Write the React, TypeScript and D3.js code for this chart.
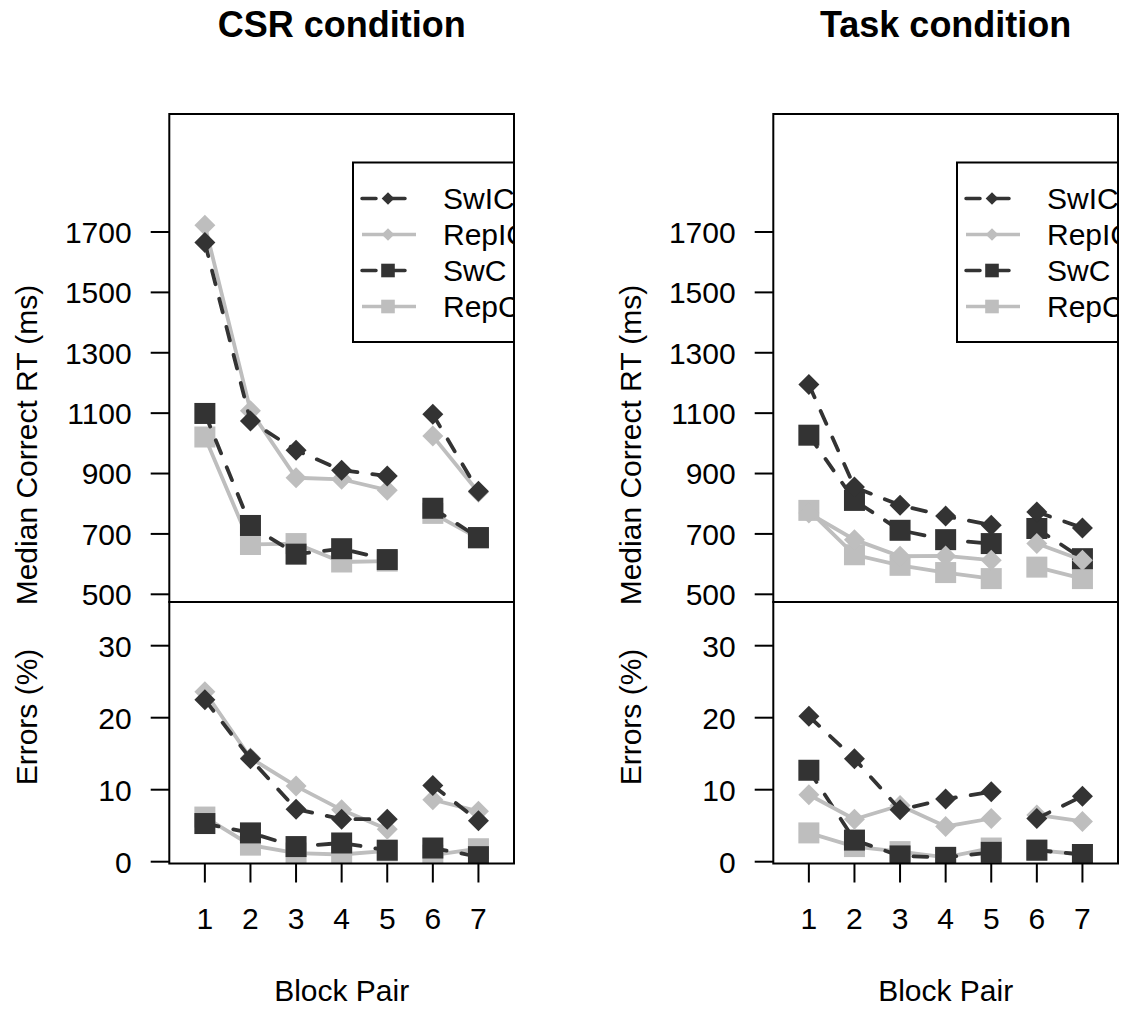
import React from "react";
import * as d3 from "d3";

// block pairs on the x axis
const blocks = [1, 2, 3, 4, 5, 6, 7];
const seriesNames = ["SwIC", "RepIC", "SwC", "RepC"];
const rtTicks = [500, 700, 900, 1100, 1300, 1500, 1700];
const errTicks = [0, 10, 20, 30];

// CSR condition - median correct RT (ms)
const csrRtSwIC = [1665, 1074, 977, 911, 892, 1096, 841];
const csrRtRepIC = [1722, 1108, 886, 881, 845, 1024, 838];
const csrRtSwC = [1099, 728, 633, 651, 615, 785, 688];
const csrRtRepC = [1021, 665, 668, 607, 610, 768, 685];
// CSR condition - errors (%)
const csrErrSwIC = [22.5, 14.3, 7.3, 5.9, 5.9, 10.6, 5.7];
const csrErrRepIC = [23.6, 14.4, 10.5, 7.2, 4.5, 8.6, 7.0];
const csrErrSwC = [5.3, 4.0, 2.1, 2.6, 1.6, 1.9, 0.7];
const csrErrRepC = [6.2, 2.3, 1.2, 1.0, 1.5, 0.9, 1.8];

// Task condition - median correct RT (ms)
const taskRtSwIC = [1195, 855, 795, 759, 729, 773, 720];
const taskRtRepIC = [769, 681, 626, 627, 613, 668, 613];
const taskRtSwC = [1027, 811, 712, 681, 668, 718, 618];
const taskRtRepC = [778, 631, 596, 572, 552, 590, 552];
// Task condition - errors (%)
const taskErrSwIC = [20.2, 14.3, 7.2, 8.7, 9.7, 6.0, 9.1];
const taskErrRepIC = [9.3, 5.9, 7.8, 4.9, 6.0, 6.5, 5.6];
const taskErrSwC = [12.7, 3.0, 0.8, 0.6, 1.3, 1.6, 1.0];
const taskErrRepC = [4.0, 2.1, 1.4, 0.6, 1.9, 1.6, 1.0];

const DARK = "#333333";
const LIGHT = "#bebebe";
const FONT = "'Liberation Sans', Arial, Helvetica, sans-serif";

const styles: Record<string, any> = {
  SwIC: { color: DARK, dash: "14 15", shape: "diamond" },
  RepIC: { color: LIGHT, dash: null, shape: "diamond" },
  SwC: { color: DARK, dash: "14 15", shape: "square" },
  RepC: { color: LIGHT, dash: null, shape: "square" },
};
const drawOrder = ["RepC", "SwC", "RepIC", "SwIC"];
// lines break between block 5 and block 6
const segments = [[0, 1, 2, 3, 4], [5, 6]];

// layout
const boxW = 344.7;
const boxTop = 114;
const boxMid = 602;
const boxBottom = 863.5;

const Marker = ({ shape, x, y, r, color }: any) => {
  if (shape === "square") {
    return <rect x={x - r} y={y - r} width={2 * r} height={2 * r} fill={color} />;
  }
  return <path d={`M${x},${y - r}L${x + r},${y}L${x},${y + r}L${x - r},${y}Z`} fill={color} />;
};

const Series = ({ name, values, x, y, clip }: any) => {
  const st = styles[name];
  const line = d3.line<number>().x(i => x(blocks[i])).y(i => y(values[i]));
  return (
    <g clipPath={`url(#${clip})`}>
      {segments.map((seg, k) => (
        <path key={k} d={line(seg) || ""} fill="none" stroke={st.color} strokeWidth={3.8}
          strokeDasharray={st.dash || undefined} strokeLinecap={st.dash ? "round" : "butt"} />
      ))}
      {values.map((v: number, i: number) => (
        <Marker key={i} shape={st.shape} x={x(blocks[i])} y={y(v)}
          r={st.shape === "square" ? 10.5 : 10.5} color={st.color} />
      ))}
    </g>
  );
};

const Panel = ({ id, left, title, rt, err }: any) => {
  const x = d3.scaleLinear().domain([0.22, 7.78]).range([left, left + boxW]);
  const yRt = d3.scaleLinear().domain([500, 1700]).range([594.3, 232]);
  const yErr = d3.scaleLinear().domain([0, 30]).range([861.7, 645.7]);
  const cx = left + boxW / 2;
  const lgX = left + 183.7;
  const lgTop = 162.5;

  return (
    <g fontFamily={FONT}>
      <defs>
        <clipPath id={`${id}-top`}>
          <rect x={left} y={boxTop} width={boxW} height={boxMid - boxTop} />
        </clipPath>
        <clipPath id={`${id}-bot`}>
          <rect x={left} y={boxMid} width={boxW} height={boxBottom - boxMid} />
        </clipPath>
      </defs>

      <text x={cx} y={37} textAnchor="middle" fontSize={36} fontWeight="bold">{title}</text>

      {/* RT y axis */}
      {rtTicks.map(t => (
        <g key={t}>
          <line x1={left - 18.6} x2={left} y1={yRt(t)} y2={yRt(t)} stroke="#000" strokeWidth={2} />
          <text x={left - 37.6} y={yRt(t)} dy="0.36em" textAnchor="end" fontSize={30}>{t}</text>
        </g>
      ))}
      <text transform={`translate(${left - 132},${445}) rotate(-90)`} textAnchor="middle" fontSize={30}>
        Median Correct RT (ms)
      </text>

      {/* Errors y axis */}
      {errTicks.map(t => (
        <g key={t}>
          <line x1={left - 18.6} x2={left} y1={yErr(t)} y2={yErr(t)} stroke="#000" strokeWidth={2} />
          <text x={left - 37.6} y={yErr(t)} dy="0.36em" textAnchor="end" fontSize={30}>{t}</text>
        </g>
      ))}
      <text transform={`translate(${left - 132},${717}) rotate(-90)`} textAnchor="middle" fontSize={30}>
        Errors (%)
      </text>

      {/* x axis */}
      {blocks.map(b => (
        <g key={b}>
          <line x1={x(b)} x2={x(b)} y1={boxBottom} y2={boxBottom + 19} stroke="#000" strokeWidth={2} />
          <text x={x(b)} y={929} textAnchor="middle" fontSize={30}>{b}</text>
        </g>
      ))}
      <text x={cx} y={1001} textAnchor="middle" fontSize={30}>Block Pair</text>

      {/* series */}
      {drawOrder.map(n => (
        <Series key={`rt-${n}`} name={n} values={rt[n]} x={x} y={yRt} clip={`${id}-top`} />
      ))}
      {drawOrder.map(n => (
        <Series key={`err-${n}`} name={n} values={err[n]} x={x} y={yErr} clip={`${id}-bot`} />
      ))}

      {/* legend, cut off by the plot box */}
      <g clipPath={`url(#${id}-top)`}>
        <rect x={lgX} y={lgTop} width={220} height={342 - lgTop} fill="#fff" stroke="#000" strokeWidth={2} />
        {seriesNames.map((n, i) => {
          const st = styles[n];
          const ly = 198.5 + i * 36;
          return (
            <g key={n}>
              <line x1={lgX + 9} x2={lgX + 63} y1={ly} y2={ly} stroke={st.color} strokeWidth={3.5}
                strokeDasharray={st.dash || undefined} strokeLinecap={st.dash ? "round" : "butt"} />
              <Marker shape={st.shape} x={lgX + 35} y={ly} r={st.shape === "square" ? 6.8 : 6.3} color={st.color} />
              <text x={lgX + 90} y={ly} dy="0.36em" fontSize={30}>{n}</text>
            </g>
          );
        })}
      </g>

      {/* boxes */}
      <rect x={left} y={boxTop} width={boxW} height={boxMid - boxTop} fill="none" stroke="#000" strokeWidth={2} />
      <rect x={left} y={boxMid} width={boxW} height={boxBottom - boxMid} fill="none" stroke="#000" strokeWidth={2} />
    </g>
  );
};

export default function App() {
  const csrRt = { SwIC: csrRtSwIC, RepIC: csrRtRepIC, SwC: csrRtSwC, RepC: csrRtRepC };
  const csrErr = { SwIC: csrErrSwIC, RepIC: csrErrRepIC, SwC: csrErrSwC, RepC: csrErrRepC };
  const taskRt = { SwIC: taskRtSwIC, RepIC: taskRtRepIC, SwC: taskRtSwC, RepC: taskRtRepC };
  const taskErr = { SwIC: taskErrSwIC, RepIC: taskErrRepIC, SwC: taskErrSwC, RepC: taskErrRepC };

  return (
    <svg width={1124} height={1010} style={{ position: "absolute", left: 0, top: 0, background: "#fff" }}>
      <rect width={1124} height={1010} fill="#fff" />
      <Panel id="csr" left={169.3} title="CSR condition" rt={csrRt} err={csrErr} />
      <Panel id="task" left={773.3} title="Task condition" rt={taskRt} err={taskErr} />
    </svg>
  );
}
